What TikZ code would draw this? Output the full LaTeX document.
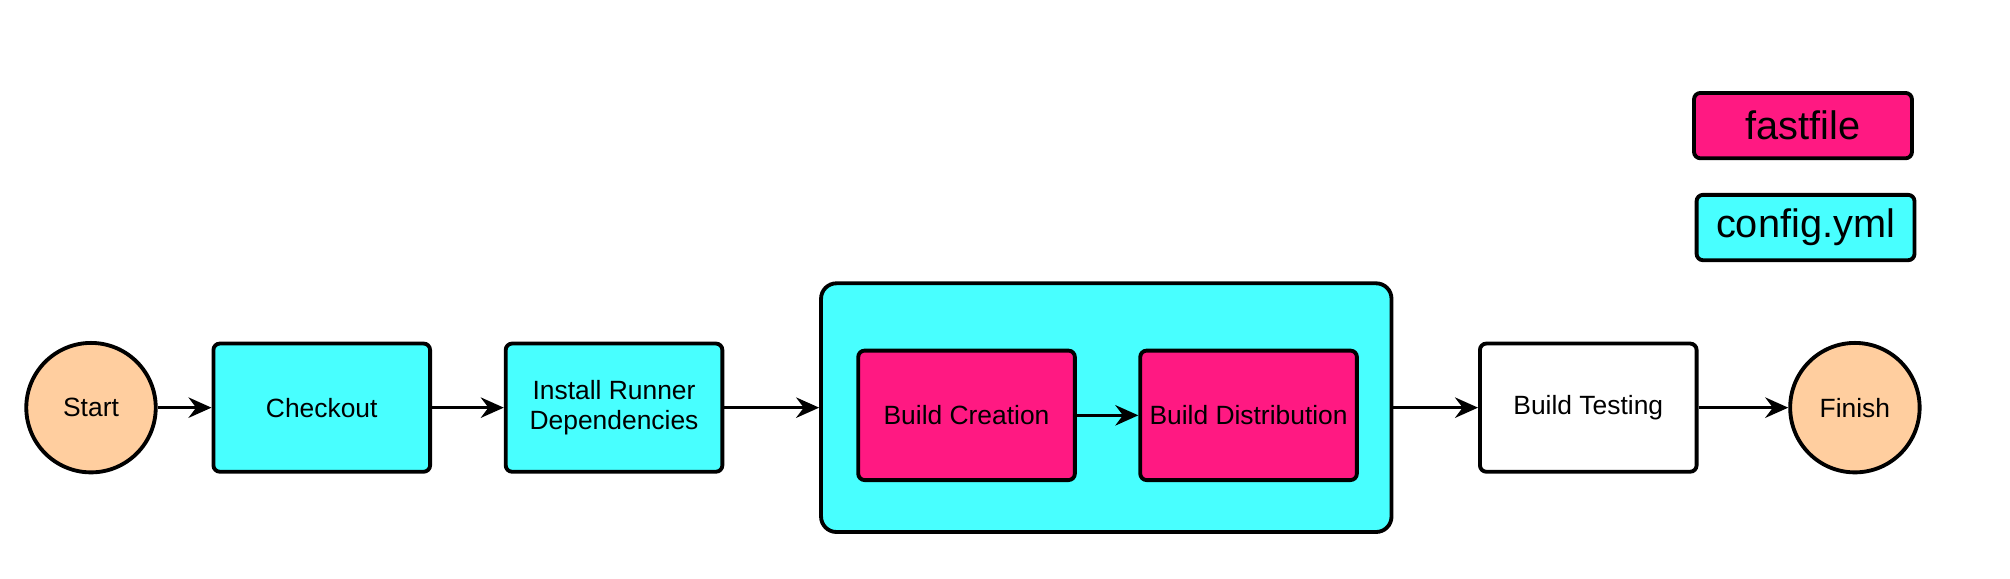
\documentclass[tikz,border=0pt]{standalone}
\usepackage{fontspec}
\setmainfont{Liberation Sans}
\usetikzlibrary{arrows.meta}
\definecolor{cyanfill}{RGB}{72,255,255}
\definecolor{pinkfill}{RGB}{255,25,130}
\definecolor{peachfill}{RGB}{255,206,159}
\begin{document}
\begin{tikzpicture}[x=0.5pt,y=-0.5pt,
  box/.style={draw=black,line width=1.5pt,rounded corners=2.5pt,inner sep=0pt,
    minimum width=84.5pt,minimum height=50pt,font=\fontsize{10.3}{11.5}\selectfont,align=center},
  cyanbox/.style={box,fill=cyanfill},
  pinkbox/.style={box,fill=pinkfill,minimum height=50.5pt},
  whitebox/.style={box,fill=white},
  term/.style={circle,draw=black,line width=1.5pt,fill=peachfill,inner sep=0pt,
    minimum size=50.5pt,font=\fontsize{10.3}{11.5}\selectfont},
  legend/.style={draw=black,line width=1.5pt,rounded corners=2.5pt,inner sep=0pt,
    minimum width=85pt,minimum height=25.5pt,font=\fontsize{15.5}{18}\selectfont},
  arr/.style={line width=1pt,-{Stealth[length=9pt,width=8pt,inset=3pt]}}
]
\useasboundingbox (0,0) rectangle (1568,451);
\node[term] (start) at (71,318) {Start};
\node[cyanbox] (checkout) at (251,318) {Checkout};
\node[cyanbox] (install) at (479,318) {Install Runner\\Dependencies};
\node[draw=black,line width=1.5pt,rounded corners=6pt,fill=cyanfill,inner sep=0pt,
  minimum width=222.5pt,minimum height=97pt] (container) at (863,318) {};
\node[pinkbox] (creation) at (754,324) {Build Creation};
\node[pinkbox] (distribution) at (974,324) {Build Distribution};
\node[whitebox] (testing) at (1239,318) {Build Testing};
\node[term] (finish) at (1447,318) {Finish};
\node[legend,fill=pinkfill] (fastfile) at (1406.5,98) {fastfile};
\node[legend,fill=cyanfill] (config) at (1408.5,177.5) {config.yml};
\draw[arr] (start) -- (checkout);
\draw[arr] (checkout) -- (install);
\draw[arr] (install) -- (container);
\draw[arr] (creation) -- (distribution);
\draw[arr] (container) -- (testing);
\draw[arr] (testing) -- (finish);
\end{tikzpicture}
\end{document}
